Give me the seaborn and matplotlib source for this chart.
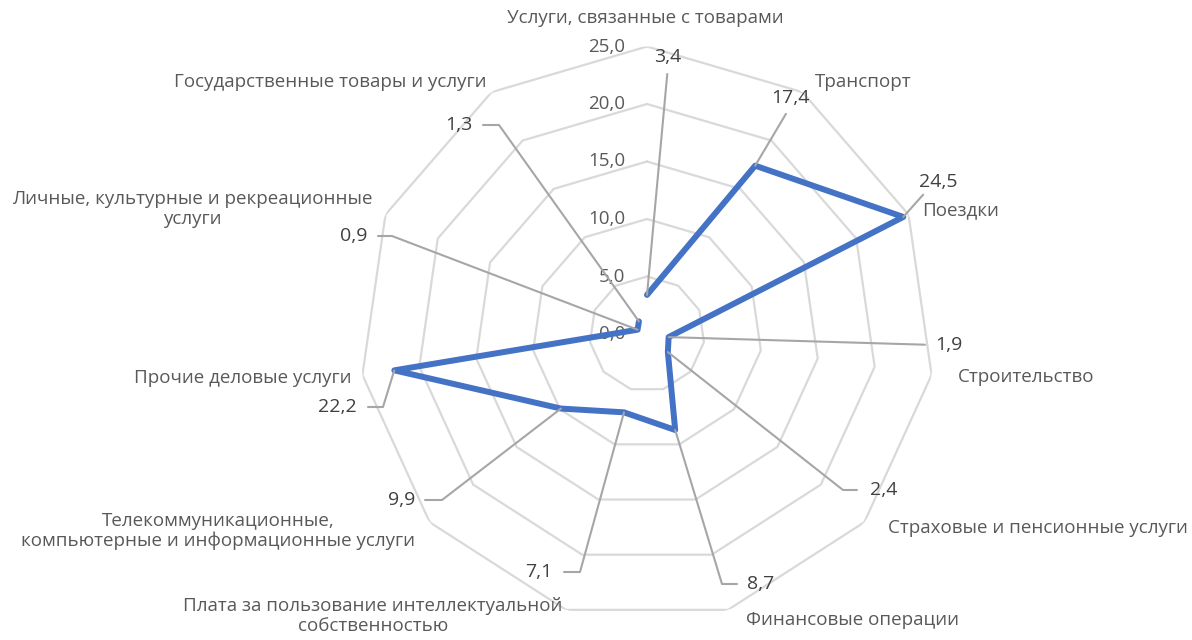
import numpy as np
import pandas as pd
import matplotlib
import matplotlib.pyplot as plt
import seaborn as sns

matplotlib.use('Agg')

# data, clockwise from the top
categories = ['Услуги, связанные с товарами', 'Транспорт', 'Поездки', 'Строительство',
              'Страховые и пенсионные услуги', 'Финансовые операции',
              'Плата за пользование интеллектуальной\nсобственностью',
              'Телекоммуникационные,\nкомпьютерные и информационные услуги',
              'Прочие деловые услуги', 'Личные, культурные и рекреационные\nуслуги',
              'Государственные товары и услуги']
values = [3.4, 17.4, 24.5, 1.9, 2.4, 8.7, 7.1, 9.9, 22.2, 0.9, 1.3]
ring_levels = [0, 5, 10, 15, 20, 25]

W, H = 1192, 640

# category label placement: x, y (pixels from top-left), ha
cat_pos = [(645, 18, 'center'), (815, 82, 'left'), (922, 210, 'left'), (958, 377, 'left'),
           (888, 528, 'left'), (746, 620, 'left'), (373, 616, 'center'), (218, 531, 'center'),
           (352, 378, 'right'), (192, 209, 'center'), (487, 82, 'right')]

# value label placement: x, y, ha, relpos, knee arm (px), gap (px)
val_pos = [(668, 57, 'center', (0.5, 0), 0, 8),
           (790, 98, 'center', (0.5, 0), 0, 8),
           (938, 182, 'center', (0.2, 0), 0, 5),
           (935, 345, 'left', (0, 0.5), 0, 10),
           (870, 490, 'left', (0, 0.5), 27, 13),
           (747, 584, 'left', (0, 0.5), 25, 10),
           (552, 572, 'right', (1, 0.5), 28, 12),
           (415, 500, 'right', (1, 0.5), 27, 10),
           (357, 407, 'right', (1, 0.5), 26, 11),
           (367, 236, 'right', (1, 0.5), 25, 11),
           (472, 125, 'right', (1, 0.5), 27, 11)]

sns.set_theme(style='white')
plt.rcParams['font.family'] = ['Open Sans', 'DejaVu Sans']

n = len(categories)
theta = np.arange(n) * 2 * np.pi / n
df = pd.DataFrame({'theta': np.append(theta, theta[0]),
                   'value': values + values[:1]})

fig = plt.figure(figsize=(W / 100, H / 100), dpi=100)
cx, cy, R = 647, 334, 287.5
ax = fig.add_axes([(cx - R) / W, (H - cy - R) / H, 2 * R / W, 2 * R / H], projection='polar')
ax.set_theta_zero_location('N')
ax.set_theta_direction(-1)
ax.set_ylim(0, 25)
ax.grid(False)
ax.set_xticks([])
ax.set_yticks([])
ax.spines['polar'].set_visible(False)
ax.patch.set_alpha(0)

# polygon rings
for lev in ring_levels[1:]:
    ax.plot(df['theta'], [lev] * len(df), color='#D9D9D9', lw=1.6, zorder=1)

for lev in ring_levels:
    ax.annotate(f'{lev:.1f}'.replace('.', ','), xy=(0, lev), xytext=(-22, 0),
                textcoords='offset pixels', ha='right', va='center',
                fontsize=13.5, color='#595959')

sns.lineplot(data=df, x='theta', y='value', sort=False, ax=ax, color='#4472C4',
             lw=4.3, zorder=3, legend=False)
ax.set_xlabel('')
ax.set_ylabel('')
ax.set_ylim(0, 25)

# value labels with leader lines
for i, v in enumerate(values):
    x, y, ha, rel, arm, gap = val_pos[i]
    angA = 180 if ha == 'left' else 0
    ax.annotate(f'{v:.1f}'.replace('.', ','), xy=(theta[i], v),
                xytext=(x, H - y), textcoords='figure pixels',
                ha=ha, va='center', fontsize=14, color='#404040', zorder=4,
                arrowprops=dict(arrowstyle='-', color='#A6A6A6', lw=1.5,
                                relpos=rel, patchA=None, shrinkA=gap * 0.72, shrinkB=0,
                                connectionstyle=f'arc,angleA={angA},armA={arm},angleB=0,armB=0,rad=0'
                                if arm else 'arc3,rad=0'))

# category labels
for i, c in enumerate(categories):
    x, y, ha = cat_pos[i]
    fig.text(x / W, 1 - y / H, c, ha=ha, va='center', fontsize=13.5,
             color='#595959', multialignment=ha, linespacing=1.15)

fig.savefig('out.png', dpi=100)
